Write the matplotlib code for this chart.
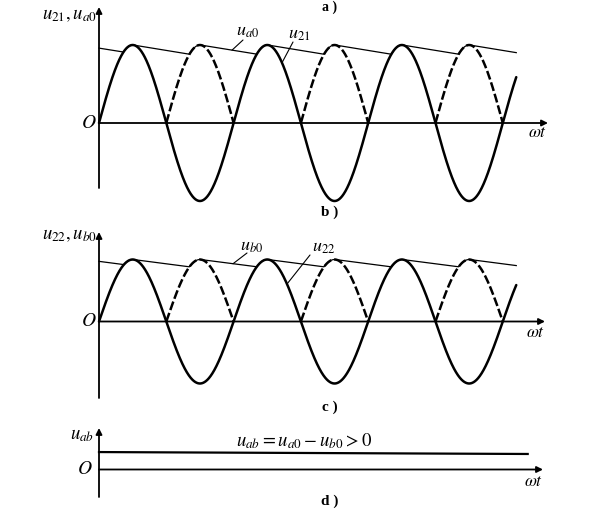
import numpy as np
import matplotlib
matplotlib.use("Agg")
import matplotlib.pyplot as plt

plt.rcParams["mathtext.fontset"] = "stix"
plt.rcParams["font.family"] = "Liberation Serif"

# ---- waveform settings ----
T_END = 6.2 * np.pi          # where the curves stop (rad)
AMP = 1.0                    # sine amplitude (per panel scale)
ENV_START = [0.96, 0.97]     # capacitor voltage at t=0, panel b / c
ENV_DECAY = 0.045            # linear decay of u_a0 / u_b0 per rad
UAB_T = [0.0, 6.37 * np.pi]  # u_ab line ends
UAB = [1.09, 0.97]           # u_ab level (panel d units)

W, H = 608, 521
SX = 67.3 / np.pi            # px per rad
X0 = 99                      # px of t = 0

fig = plt.figure(figsize=(W / 100, H / 100), dpi=100)


def fpx(x, y):
    return x / W, 1 - y / H


def make_axes(y_top, y_bot, y_zero, unit):
    ax = fig.add_axes([0, 1 - y_bot / H, 1, (y_bot - y_top) / H])
    ax.set_xlim(-X0 / SX, (W - X0) / SX)
    ax.set_ylim(-(y_bot - y_zero) / unit, (y_zero - y_top) / unit)
    ax.axis("off")
    return ax


def draw_axes(ax, y_lo, y_hi, x_hi):
    ap = dict(arrowstyle="-|>", lw=1.3, color="black", mutation_scale=9,
              shrinkA=0, shrinkB=0)
    ax.annotate("", xy=(0, y_hi), xytext=(0, y_lo), arrowprops=ap)
    ax.annotate("", xy=(x_hi, 0), xytext=(0, 0), arrowprops=ap)


def envelope(t, rect, v0):
    v = np.empty_like(t)
    cur = v0
    for i in range(len(t)):
        if i > 0:
            cur -= ENV_DECAY * (t[i] - t[i - 1])
        cur = max(cur, rect[i])
        v[i] = cur
    return v


t = np.linspace(0, T_END, 3000)
u = AMP * np.sin(t)
neg = np.where(u < 0, -u, np.nan)


def wave_panel(ax, v0):
    ax.plot(t, u, color="black", lw=1.8, solid_capstyle="round")
    ln, = ax.plot(t, neg, color="black", lw=1.8)
    ln.set_dashes((3.6, 1.2))
    env = envelope(t, np.abs(u), v0)
    ax.plot(t, env, color="black", lw=0.9)
    return env


leader = dict(arrowstyle="-", lw=0.8, shrinkA=0, shrinkB=0)

# ---- panel b ----
axb = make_axes(0, 215, 123, 78)
draw_axes(axb, (123 - 188) / 78, (123 - 7) / 78, (548 - X0) / SX)
env_b = wave_panel(axb, ENV_START[0])
tp = (232 - X0) / SX
axb.annotate("", xy=(tp, np.interp(tp, t, env_b)),
             xytext=((243 - X0) / SX, (123 - 40) / 78), arrowprops=leader)
tp = (282 - X0) / SX
axb.annotate("", xy=(tp, AMP * np.sin(tp)),
             xytext=((293 - X0) / SX, (123 - 42) / 78), arrowprops=leader)
fig.text(*fpx(236, 31), r"$u_{a0}$", fontsize=13, ha="left", va="center")
fig.text(*fpx(288, 34), r"$u_{21}$", fontsize=13, ha="left", va="center")
fig.text(*fpx(97, 16), r"$u_{21},u_{a0}$", fontsize=13.5, ha="right", va="center")
fig.text(*fpx(97, 123), r"$O$", fontsize=14, ha="right", va="center")
fig.text(*fpx(528, 133), r"$\omega t$", fontsize=12.5, ha="left", va="center")

# ---- panel c ----
axc = make_axes(215, 410, 321.5, 62)
draw_axes(axc, (321.5 - 398) / 62, (321.5 - 232) / 62, (545 - X0) / SX)
env_c = wave_panel(axc, ENV_START[1])
tp = (233 - X0) / SX
axc.annotate("", xy=(tp, np.interp(tp, t, env_c)),
             xytext=((247 - X0) / SX, (321.5 - 253) / 62), arrowprops=leader)
tp = (287 - X0) / SX
axc.annotate("", xy=(tp, AMP * np.sin(tp)),
             xytext=((310 - X0) / SX, (321.5 - 255) / 62), arrowprops=leader)
fig.text(*fpx(240, 246), r"$u_{b0}$", fontsize=13, ha="left", va="center")
fig.text(*fpx(312, 247), r"$u_{22}$", fontsize=13, ha="left", va="center")
fig.text(*fpx(97, 236), r"$u_{22},u_{b0}$", fontsize=13.5, ha="right", va="center")
fig.text(*fpx(97, 322), r"$O$", fontsize=14, ha="right", va="center")
fig.text(*fpx(526, 333), r"$\omega t$", fontsize=12.5, ha="left", va="center")

# ---- panel d ----
axd = make_axes(410, 521, 469.5, 16)
draw_axes(axd, (469.5 - 497) / 16, (469.5 - 428) / 16, (543 - X0) / SX)
axd.plot(UAB_T, UAB, color="black", lw=1.6)
fig.text(*fpx(304, 441), r"$u_{ab}=u_{a0}-u_{b0}>0$", fontsize=13.5,
         ha="center", va="center")
fig.text(*fpx(94, 436), r"$u_{ab}$", fontsize=13.5, ha="right", va="center")
fig.text(*fpx(93, 469), r"$O$", fontsize=14, ha="right", va="center")
fig.text(*fpx(524, 482), r"$\omega t$", fontsize=12.5, ha="left", va="center")

# ---- captions ----
fig.text(*fpx(330, 1), "a )", fontsize=10, ha="center", va="top",
         fontweight="bold")
for lab, y in [("b )", 212), ("c )", 407), ("d )", 501)]:
    fig.text(*fpx(330, y), lab, fontsize=11, ha="center", va="center",
             fontweight="bold")

fig.savefig("out.png", dpi=100)
